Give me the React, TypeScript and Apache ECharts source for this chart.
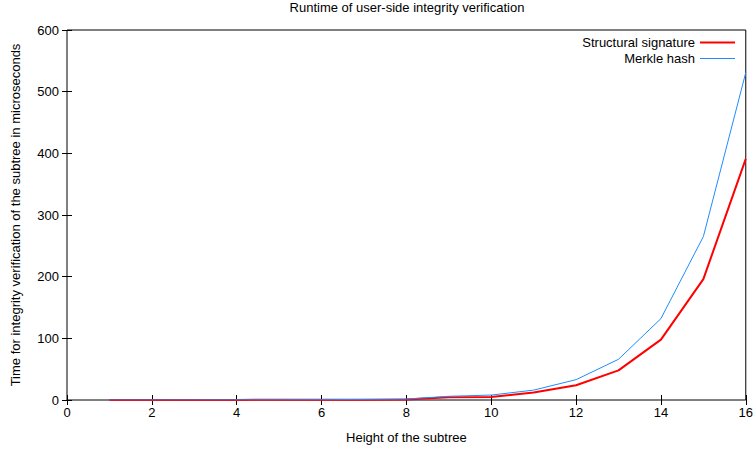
import React, { useEffect, useRef } from "react";
import * as echarts from "echarts";

const heights = [1, 2, 3, 4, 5, 6, 7, 8, 9, 10, 11, 12, 13, 14, 15, 16];
const structuralSignature = [0.1, 0.1, 0.1, 0.2, 0.3, 0.4, 0.5, 0.7, 4.5, 5, 12, 24, 48, 98, 196, 391];
const merkleHash = [0.1, 0.1, 0.2, 0.3, 0.4, 0.6, 0.9, 1.6, 6, 8, 16, 33, 66, 132, 265, 531];
const xTicks = [0, 2, 4, 6, 8, 10, 12, 14, 16];
const yTicks = [0, 100, 200, 300, 400, 500, 600];

const FONT = "'Liberation Sans', Arial, sans-serif";
const FS = 13;

export default function App() {
  const ref = useRef<HTMLDivElement>(null);
  useEffect(() => {
    if (!ref.current) return;
    const chart = echarts.init(ref.current, undefined, { renderer: "svg" });
    const pairs = (ys: number[]) => heights.map((h, i) => [h, ys[i]]);
    const tickStyle = { show: true, inside: true, length: 5, lineStyle: { color: "#000", width: 1 } };
    chart.setOption({
      animation: false,
      textStyle: { fontFamily: FONT, color: "#000" },
      title: {
        text: "Runtime of user-side integrity verification",
        left: 407,
        textAlign: "center",
        top: 1,
        padding: 0,
        textStyle: { fontSize: FS, fontWeight: "normal", color: "#000", fontFamily: FONT },
      },
      grid: {
        left: 67,
        right: 8,
        top: 30,
        bottom: 48,
        show: true,
        borderColor: "#000",
        borderWidth: 1,
        backgroundColor: "transparent",
      },
      legend: [
        {
          data: [{ name: "Structural signature" }],
          right: 21,
          top: 36,
          align: "right",
          itemWidth: 35,
          itemHeight: 2,
          icon: "rect",
          itemGap: 7,
          padding: 0,
          textStyle: { fontSize: FS, color: "#000", fontFamily: FONT },
        },
        {
          data: [{ name: "Merkle hash" }],
          right: 21,
          top: 52,
          align: "right",
          itemWidth: 35,
          itemHeight: 1,
          icon: "rect",
          itemGap: 7,
          padding: 0,
          textStyle: { fontSize: FS, color: "#000", fontFamily: FONT },
        },
      ],
      xAxis: [
        {
          type: "value",
          min: 0,
          max: 16,
          interval: 2,
          position: "bottom",
          name: "Height of the subtree",
          nameLocation: "middle",
          nameGap: 31,
          nameTextStyle: { fontSize: FS, color: "#000", fontFamily: FONT },
          axisLine: { show: false },
          axisTick: tickStyle,
          axisLabel: {
            fontSize: FS,
            color: "#000",
            margin: 6,
            formatter: (v: number) => (xTicks.includes(v) ? String(v) : ""),
          },
          splitLine: { show: false },
        },
        {
          type: "value",
          min: 0,
          max: 16,
          interval: 2,
          position: "top",
          axisLine: { show: false },
          axisTick: tickStyle,
          axisLabel: { show: false },
          splitLine: { show: false },
        },
      ],
      yAxis: [
        {
          type: "value",
          min: 0,
          max: 600,
          interval: 100,
          position: "left",
          name: "Time for integrity verification of the subtree in microseconds",
          nameLocation: "middle",
          nameGap: 45,
          nameTextStyle: { fontSize: FS, color: "#000", fontFamily: FONT },
          axisLine: { show: false },
          axisTick: tickStyle,
          axisLabel: {
            fontSize: FS,
            color: "#000",
            margin: 8,
            formatter: (v: number) => (yTicks.includes(v) ? String(v) : ""),
          },
          splitLine: { show: false },
        },
        {
          type: "value",
          min: 0,
          max: 600,
          interval: 100,
          position: "right",
          axisLine: { show: false },
          axisTick: tickStyle,
          axisLabel: { show: false },
          splitLine: { show: false },
        },
      ],
      series: [
        {
          name: "Structural signature",
          type: "line",
          data: pairs(structuralSignature),
          showSymbol: false,
          symbol: "none",
          lineStyle: { color: "#ff0000", width: 2 },
          itemStyle: { color: "#ff0000" },
          z: 2,
        },
        {
          name: "Merkle hash",
          type: "line",
          data: pairs(merkleHash),
          showSymbol: false,
          symbol: "none",
          lineStyle: { color: "#1e8cff", width: 1 },
          itemStyle: { color: "#1e8cff" },
          z: 3,
        },
      ],
    });
    return () => chart.dispose();
  }, []);
  return <div ref={ref} style={{ width: 756, height: 449, position: "absolute", left: 0, top: 0 }} />;
}
